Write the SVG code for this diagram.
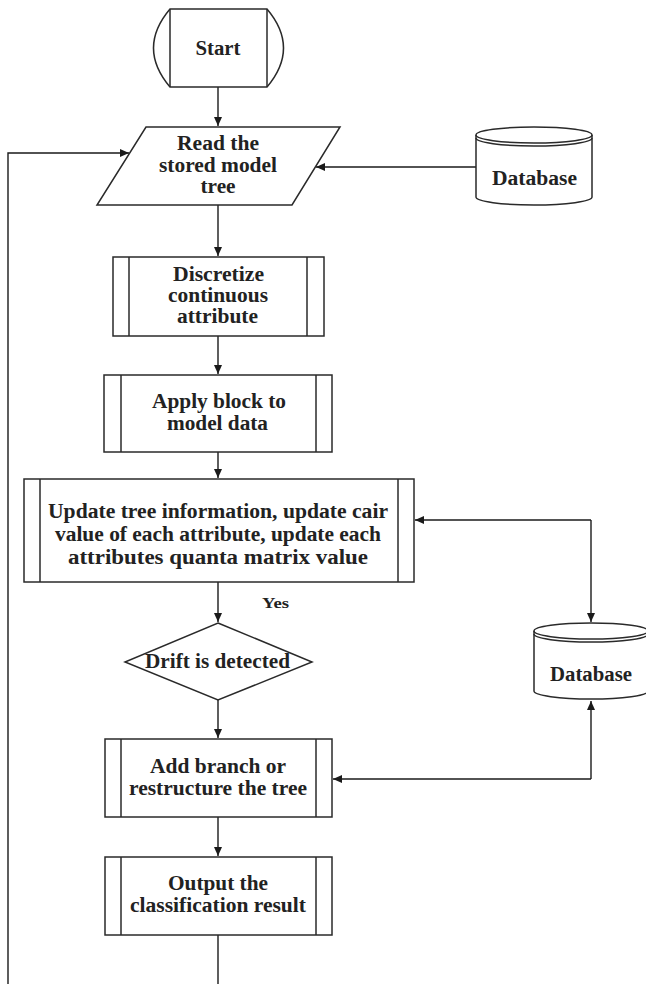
<svg xmlns="http://www.w3.org/2000/svg" width="646" height="984" viewBox="0 0 646 984">
<style>
.s{fill:#fff;stroke:#2a2a2a;stroke-width:1.5}
.ln{fill:none;stroke:#2a2a2a;stroke-width:1.5}
.c{fill:none;stroke:#1a1a1a;stroke-width:1.4}
text{font-family:"Liberation Serif","Times New Roman",serif;font-weight:bold;font-size:20px;fill:#222;text-anchor:middle}
.y{font-size:15px}
</style>
<defs>
<marker id="ah" markerUnits="userSpaceOnUse" markerWidth="10" markerHeight="8" refX="9" refY="4" orient="auto">
<path d="M0,0 L9,4 L0,8 Z" fill="#1a1a1a"/>
</marker>
</defs>
<rect width="646" height="984" fill="#fff"/>
<g id="connectors">
<line class="c" x1="218" y1="87" x2="218" y2="126" marker-end="url(#ah)"/>
<line class="c" x1="218" y1="205" x2="218" y2="256" marker-end="url(#ah)"/>
<line class="c" x1="218" y1="336" x2="218" y2="374" marker-end="url(#ah)"/>
<line class="c" x1="218" y1="452" x2="218" y2="478" marker-end="url(#ah)"/>
<line class="c" x1="218" y1="582" x2="218" y2="622" marker-end="url(#ah)"/>
<line class="c" x1="218" y1="700" x2="218" y2="738" marker-end="url(#ah)"/>
<line class="c" x1="218" y1="817" x2="218" y2="856" marker-end="url(#ah)"/>
<line class="c" x1="218" y1="935" x2="218" y2="984"/>
<path class="c" d="M8,984 V153 H129" marker-end="url(#ah)"/>
<line class="c" x1="476" y1="167" x2="316" y2="167" marker-end="url(#ah)"/>
<path class="c" d="M591,520 H415" marker-end="url(#ah)"/>
<path class="c" d="M591,520 V622" marker-end="url(#ah)"/>
<path class="c" d="M591,779 V701" marker-end="url(#ah)"/>
<path class="c" d="M591,779 H333" marker-end="url(#ah)"/>
<text class="y" x="275.5" y="608" textLength="27" lengthAdjust="spacingAndGlyphs">Yes</text>
</g>
<g id="start">
<path class="s" d="M170,9 L267,9 Q300,48 267,87 L170,87 Q137,48 170,9 Z"/>
<line class="ln" x1="170" y1="9" x2="170" y2="87"/>
<line class="ln" x1="267" y1="9" x2="267" y2="87"/>
<text x="218" y="55" textLength="45" lengthAdjust="spacingAndGlyphs">Start</text>
</g>
<g id="read">
<path class="s" d="M146,127 L340,127 L292,205 L97,205 Z"/>
<text x="218" y="150" textLength="82" lengthAdjust="spacingAndGlyphs">Read the</text>
<text x="218" y="172" textLength="118" lengthAdjust="spacingAndGlyphs">stored model</text>
<text x="218" y="193" textLength="35" lengthAdjust="spacingAndGlyphs">tree</text>
</g>
<g id="db1">
<path class="s" d="M476,135 A58,8 0 0 1 592,135 V197 A58,8 0 0 1 476,197 Z"/>
<path class="ln" d="M476,135 A58,8 0 0 0 592,135"/>
<path class="ln" d="M476,138 A58,8 0 0 0 592,138"/>
<text x="534.5" y="185" textLength="85" lengthAdjust="spacingAndGlyphs">Database</text>
</g>
<g id="discretize">
<rect class="s" x="113" y="257" width="211" height="79"/>
<line class="ln" x1="129" y1="257" x2="129" y2="336"/>
<line class="ln" x1="307" y1="257" x2="307" y2="336"/>
<text x="218.5" y="281" textLength="91" lengthAdjust="spacingAndGlyphs">Discretize</text>
<text x="218" y="302" textLength="100" lengthAdjust="spacingAndGlyphs">continuous</text>
<text x="217.5" y="323" textLength="81" lengthAdjust="spacingAndGlyphs">attribute</text>
</g>
<g id="apply">
<rect class="s" x="104" y="375" width="228" height="77"/>
<line class="ln" x1="121" y1="375" x2="121" y2="452"/>
<line class="ln" x1="316" y1="375" x2="316" y2="452"/>
<text x="219" y="408" textLength="134" lengthAdjust="spacingAndGlyphs">Apply block to</text>
<text x="217.5" y="430" textLength="101" lengthAdjust="spacingAndGlyphs">model data</text>
</g>
<g id="update">
<rect class="s" x="24" y="479" width="390" height="103"/>
<line class="ln" x1="40" y1="479" x2="40" y2="582"/>
<line class="ln" x1="398" y1="479" x2="398" y2="582"/>
<text x="218" y="518" textLength="340" lengthAdjust="spacingAndGlyphs">Update tree information, update cair</text>
<text x="218" y="541" textLength="326" lengthAdjust="spacingAndGlyphs">value of each attribute, update each</text>
<text x="218" y="564" textLength="300" lengthAdjust="spacingAndGlyphs">attributes quanta matrix value</text>
</g>
<g id="drift">
<path class="s" d="M218,623 L312,662 L218,700 L125,662 Z"/>
<text x="217.5" y="668" textLength="145" lengthAdjust="spacingAndGlyphs">Drift is detected</text>
</g>
<g id="db2">
<path class="s" d="M534,631 A57,8 0 0 1 648,631 V691 A57,8 0 0 1 534,691 Z"/>
<path class="ln" d="M534,631 A57,8 0 0 0 648,631"/>
<path class="ln" d="M534,634 A57,8 0 0 0 648,634"/>
<text x="591" y="681" textLength="82" lengthAdjust="spacingAndGlyphs">Database</text>
</g>
<g id="addbranch">
<rect class="s" x="105" y="739" width="227" height="78"/>
<line class="ln" x1="121" y1="739" x2="121" y2="817"/>
<line class="ln" x1="316" y1="739" x2="316" y2="817"/>
<text x="218" y="773" textLength="136" lengthAdjust="spacingAndGlyphs">Add branch or</text>
<text x="218" y="795" textLength="178" lengthAdjust="spacingAndGlyphs">restructure the tree</text>
</g>
<g id="output">
<rect class="s" x="105" y="857" width="227" height="78"/>
<line class="ln" x1="121" y1="857" x2="121" y2="935"/>
<line class="ln" x1="316" y1="857" x2="316" y2="935"/>
<text x="218" y="890" textLength="100" lengthAdjust="spacingAndGlyphs">Output the</text>
<text x="218" y="912" textLength="176" lengthAdjust="spacingAndGlyphs">classification result</text>
</g>
</svg>
